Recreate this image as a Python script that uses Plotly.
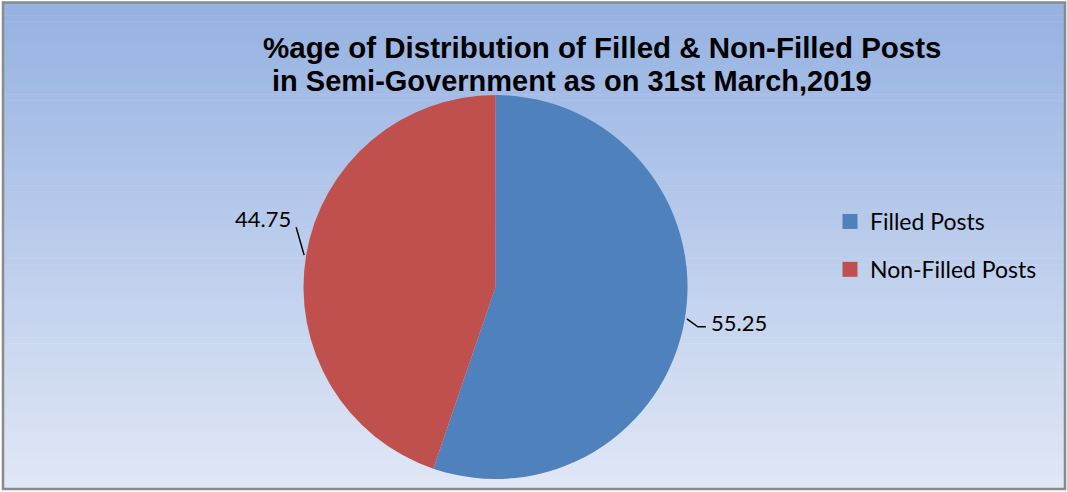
import math
import plotly.graph_objects as go

# ---- data ----
categories = ["Filled Posts", "Non-Filled Posts"]
values = [55.25, 44.75]
colors = ["#4F81BD", "#C0504D"]
title_line1 = "%age of Distribution of Filled & Non-Filled Posts"
title_line2 = "in Semi-Government as on 31st March,2019"

W, H = 1067, 492
CX, CY, R = 495.5, 287.0, 192.0  # pie geometry in px (style)

def px(x):
    return x / W

def py(y):
    return 1 - y / H

fig = go.Figure()

# gradient background stripes
top = (150, 178, 226)
bot = (224, 231, 246)
y0, y1 = 3.0, 489.0
n = 80
shapes = []
for i in range(n):
    t = i / (n - 1)
    c = tuple(round(top[k] + (bot[k] - top[k]) * t) for k in range(3))
    ya = y0 + (y1 - y0) * i / n
    yb = y0 + (y1 - y0) * (i + 1) / n + 0.6
    shapes.append(dict(type="rect", xref="paper", yref="paper", layer="below",
                       x0=px(3), x1=px(1065), y0=py(yb), y1=py(ya),
                       fillcolor="rgb(%d,%d,%d)" % c, line=dict(width=0)))
# outer border
shapes.append(dict(type="rect", xref="paper", yref="paper", layer="above",
                   x0=px(3), x1=px(1065), y0=py(489), y1=py(2.5),
                   line=dict(color="#8A8A8A", width=2.5)))

fig.add_trace(go.Pie(
    labels=categories, values=values, sort=False, direction="clockwise",
    rotation=0, marker=dict(colors=colors, line=dict(width=0)),
    textinfo="none", hoverinfo="label+value", showlegend=False,
    domain=dict(x=[px(CX - 230), px(CX + 230)], y=[py(CY + R), py(CY - R)]),
))

# legend via dummy traces
for cat, col in zip(categories, colors):
    fig.add_trace(go.Scatter(x=[None], y=[None], mode="markers", name=cat,
                             legendgroup=cat,
                             marker=dict(symbol="square", size=15, color=col)))

# data labels with leader lines, computed from values
offsets = {  # style: leader bend / label offsets per slice (px)
    0: dict(bend=(11, 8), tail=(8, 0), label=(3, -4), anchor="left"),
    1: dict(bend=(-8, -28), tail=(0, 0), label=(-3, -9), anchor="right"),
}
total = sum(values)
cum = 0.0
annotations = []
for i, v in enumerate(values):
    mid = (cum + v / 2) / total * 2 * math.pi
    cum += v
    sx = CX + (R + 2) * math.sin(mid)
    sy = CY - (R + 2) * math.cos(mid)
    o = offsets[i]
    bx, by = sx + o["bend"][0], sy + o["bend"][1]
    ex, ey = bx + o["tail"][0], by + o["tail"][1]
    path = "M %f,%f L %f,%f L %f,%f" % (px(sx), py(sy), px(bx), py(by), px(ex), py(ey))
    shapes.append(dict(type="path", xref="paper", yref="paper", path=path,
                       line=dict(color="black", width=1.5)))
    annotations.append(dict(x=px(ex + o["label"][0]), y=py(ey + o["label"][1]),
                            xref="paper", yref="paper", text="%.2f" % v,
                            showarrow=False, xanchor=o["anchor"], yanchor="middle",
                            font=dict(family="Lato", size=22, color="black")))

annotations.append(dict(x=px(261), y=py(48), xref="paper", yref="paper",
                        text="<b>%s</b>" % title_line1, showarrow=False,
                        xanchor="left", yanchor="middle",
                        font=dict(family="Liberation Sans", size=29.5, color="black")))
annotations.append(dict(x=px(270), y=py(81), xref="paper", yref="paper",
                        text="<b>%s</b>" % title_line2, showarrow=False,
                        xanchor="left", yanchor="middle",
                        font=dict(family="Liberation Sans", size=29, color="black")))

fig.update_layout(
    width=W, height=H,
    margin=dict(l=0, r=0, t=0, b=0),
    paper_bgcolor="white", plot_bgcolor="rgba(0,0,0,0)",
    xaxis=dict(visible=False), yaxis=dict(visible=False),
    shapes=shapes, annotations=annotations,
    legend=dict(x=px(830), y=py(200), xanchor="left", yanchor="top",
                bgcolor="rgba(0,0,0,0)", tracegroupgap=15, itemwidth=30,
                font=dict(family="Lato", size=23, color="black")),
)

fig.write_html("out.html", config={"displayModeBar": False},
               post_script="document.body.style.margin='0';document.body.style.overflow='hidden';")
